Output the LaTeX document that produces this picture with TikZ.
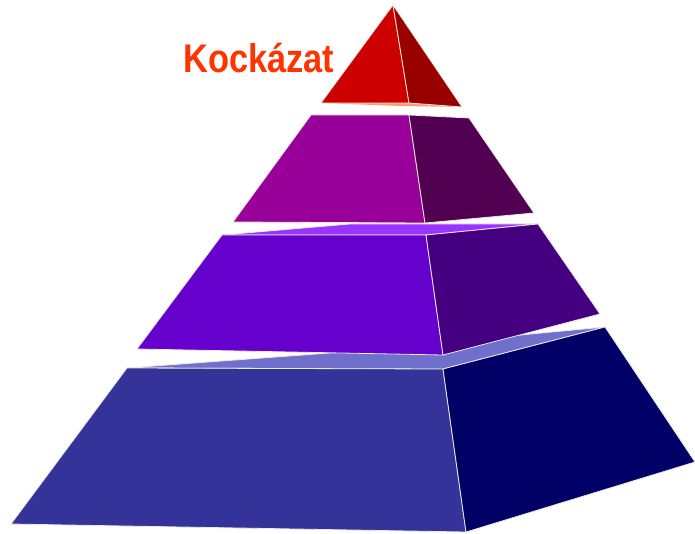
\documentclass[tikz,border=0pt]{standalone}
\usepackage{fontspec}
\setmainfont{Liberation Sans}
\usepackage{tikz}

\definecolor{redfront}{HTML}{CC0000}
\definecolor{redside}{HTML}{990000}
\definecolor{redtop}{HTML}{FF9977}
\definecolor{magfront}{HTML}{990099}
\definecolor{magside}{HTML}{520052}
\definecolor{vioFront}{HTML}{6600CC}
\definecolor{vioSide}{HTML}{440080}
\definecolor{vioTop}{HTML}{9933FF}
\definecolor{blufront}{HTML}{333399}
\definecolor{bluside}{HTML}{000066}
\definecolor{blutop}{HTML}{7070CC}
\definecolor{rimline}{HTML}{ECE8DE}
\definecolor{titlecol}{HTML}{FF3300}

\begin{document}
\begin{tikzpicture}[x=1pt, y=-1pt]
    \tikzset{
        face/.style={draw=rimline, line width=0.8pt, line join=round},
        title/.style={font=\bfseries\fontsize{40}{40}\selectfont, text=titlecol, inner sep=0pt, anchor=base west}
    }
    \useasboundingbox (0,0) rectangle (695,534);

    % Bottom layer
    \filldraw[face, fill=blutop] (127,368) -- (330,353) -- (605,327) -- (443,369) -- cycle;
    \filldraw[face, fill=blufront] (127,368) -- (443,369) -- (466,532) -- (11,524) -- cycle;
    \filldraw[face, fill=bluside] (443,369) -- (605,327) -- (695,462) -- (466,532) -- cycle;

    % Third layer
    \filldraw[face, fill=vioTop] (222,235) -- (350,224) -- (538,224) -- (426,235) -- cycle;
    \filldraw[face, fill=vioFront] (222,235) -- (426,235) -- (443,355) -- (137,349) -- cycle;
    \filldraw[face, fill=vioSide] (426,235) -- (538,224) -- (600,314) -- (443,355) -- cycle;

    % Second layer
    \filldraw[face, fill=magfront] (311,115) -- (409,115) -- (425,223) -- (233,222) -- cycle;
    \filldraw[face, fill=magside] (409,115) -- (469,118) -- (534,213) -- (425,223) -- cycle;

    % Top
    \filldraw[face, draw=none, fill=redtop] (321,103) -- (409,103) -- (462,107) -- (400,106) -- cycle;
    \filldraw[face, fill=redfront] (393,5) -- (409,103) -- (321,103) -- cycle;
    \filldraw[face, fill=redside] (393,5) -- (462,107) -- (409,103) -- cycle;

    \node[title] (risk) at (183,73) {\scalebox{0.86}[1]{Kockázat}};
\end{tikzpicture}
\end{document}
